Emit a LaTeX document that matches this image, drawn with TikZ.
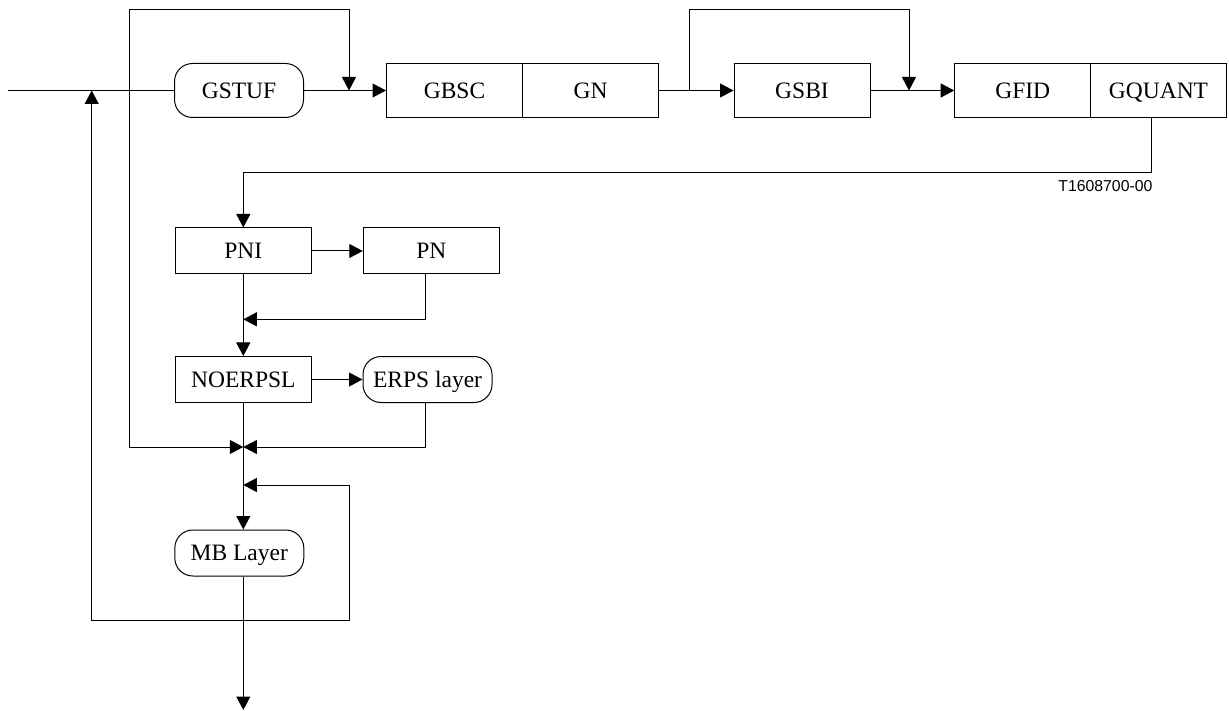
\documentclass[tikz,border=0pt]{standalone}
\usepackage{fontspec}
\setmainfont{Liberation Serif}
\newfontfamily\tagfont{Liberation Sans}
\usetikzlibrary{arrows.meta}

\tikzset{
  blk/.style={draw, minimum width=136pt, minimum height=54pt, inner sep=0pt,
    text height=15.6pt, text depth=0pt,
    font=\fontsize{23.5}{28}\selectfont},
  lblk/.style={blk, minimum height=46pt},
  rnd/.style={rounded corners=18pt, minimum width=129pt},
}

\begin{document}
\begin{tikzpicture}[
    x=1pt,y=-1pt, line width=1pt,
    >={Triangle[length=13.5pt,width=14pt]}
    ]
    \useasboundingbox (0,0) rectangle (1229,711);
    % top row
    \node[blk,rnd] (gstuf) at (239,90.5) {GSTUF};
    \node[blk] (gbsc) at (454.5,90.5) {GBSC};
    \node[blk] (gn) at (590.6,90.5) {GN};
    \node[blk] (gsbi) at (802,90.5) {GSBI};
    \node[blk] (gfid) at (1022.7,90.5) {GFID};
    \node[blk] (gquant) at (1158.5,90.5) {GQUANT};
    \node[font=\tagfont\fontsize{15.8}{18}\selectfont] (tag) at (1105.4,186.4) {T1608700-00};
    % lower column
    \node[lblk] (pni) at (243.3,251) {PNI};
    \node[lblk] (pn) at (431.3,251) {PN};
    \node[lblk] (noerpsl) at (243.3,379.5) {NOERPSL};
    \node[lblk,rnd] (erps) at (427.5,379.5) {ERPS layer};
    \node[lblk,rnd] (mb) at (239.3,553) {MB Layer};
    % junctions
    \coordinate (in) at (8,90.5);
    \coordinate (b1) at (129.7,90.5);
    \coordinate (s1) at (349,90.5);
    \coordinate (s2) at (689,90.5);
    \coordinate (s3) at (909,90.5);
    \coordinate (q) at (1151.3,172.8);
    \coordinate (m1) at (243.3,319.3);
    \coordinate (m2) at (243.3,447);
    \coordinate (m3) at (243.3,485);
    \coordinate (fb) at (243.3,620.7);
    \coordinate (fbl) at (91.7,620.7);
    \coordinate (fbr) at (349,620.7);
    \coordinate (out) at (243.3,710);
    % top connectors
    \draw (in) -- (gstuf);
    \draw[->] (gstuf) -- (gbsc);
    \draw[->] (b1) -- ++(0,-80.5) -| (s1);
    \draw[->] (gn) -- (gsbi);
    \draw[->] (s2) -- ++(0,-80.5) -| (s3);
    \draw[->] (gsbi) -- (gfid);
    \draw[->] (q |- gquant.south) -- (q) -| (pni);
    % lower connectors
    \draw[->] (pni) -- (pn);
    \draw[->] (pni) -- (noerpsl);
    \draw[->] ([xshift=-6pt]pn.south) |- (m1);
    \draw[->] (noerpsl) -- (erps);
    \draw[->] (b1) |- (m2);
    \draw[->] ([xshift=-2.5pt]erps.south) |- (m2);
    \draw[->] (noerpsl.south) -- (noerpsl.south |- mb.north);
    \draw[->] (out |- mb.south) -- (out);
    \draw[->] (fb) -- (fbr) |- (m3);
    \draw[->] (fb) -- (fbl) -- (fbl |- in);
  \end{tikzpicture}
\end{document}
